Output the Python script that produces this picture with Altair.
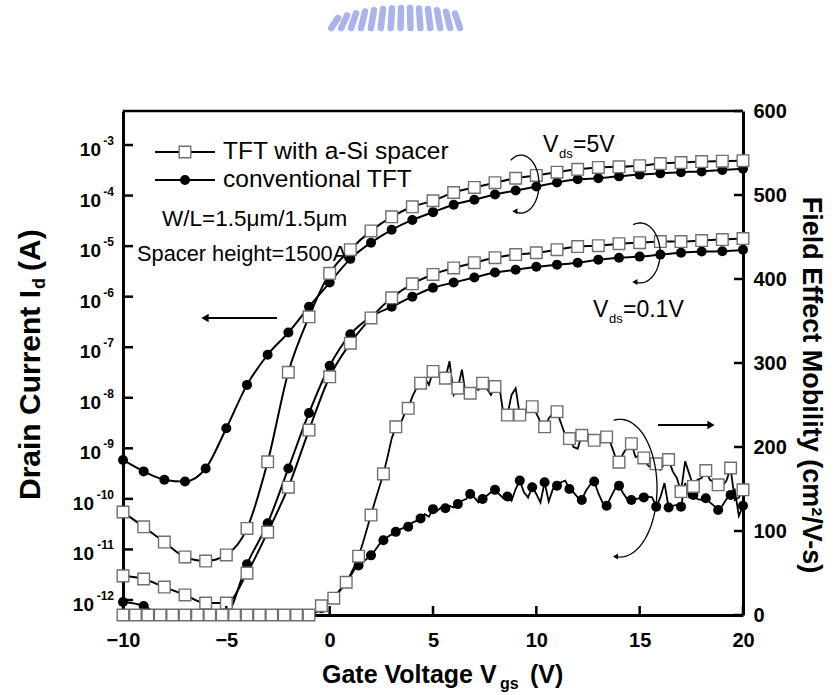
import altair as alt
import numpy as np
import pandas as pd

W, H = 620, 504
FONT = "Liberation Sans"

# ---------------- data ----------------
vgs = list(range(-10, 21))
id_spacer_5v = [5.5e-11, 2.8e-11, 1.4e-11, 7.1e-12, 5.9e-12, 7.8e-12, 2.6e-11, 5.4e-10, 3.2e-8, 4.0e-7,
                2.9e-6, 8.5e-6, 2.0e-5, 3.8e-5, 6.0e-5, 7.9e-5, 1.15e-4, 1.45e-4, 1.8e-4, 2.2e-4,
                2.5e-4, 2.9e-4, 3.3e-4, 3.6e-4, 3.7e-4, 3.9e-4, 4.3e-4, 4.5e-4, 4.7e-4, 4.8e-4, 4.9e-4]
id_conv_5v = [5.9e-10, 3.5e-10, 2.4e-10, 2.2e-10, 4.0e-10, 2.5e-9, 1.8e-8, 7.1e-8, 1.95e-7, 6.3e-7,
              1.9e-6, 5.6e-6, 1.17e-5, 2.1e-5, 3.3e-5, 4.7e-5, 6.6e-5, 8.3e-5, 1.05e-4, 1.26e-4,
              1.51e-4, 1.82e-4, 2.1e-4, 2.2e-4, 2.4e-4, 2.6e-4, 2.75e-4, 2.9e-4, 3.0e-4, 3.2e-4, 3.4e-4]
id_spacer_01v = [3.0e-12, 2.6e-12, 1.8e-12, 1.26e-12, 8.7e-13, 8.7e-13, 3.4e-12, 2.2e-11, 1.7e-10, 2.3e-9,
                 2.6e-8, 1.2e-7, 3.8e-7, 9.5e-7, 1.8e-6, 2.75e-6, 3.7e-6, 4.7e-6, 5.9e-6, 6.8e-6,
                 7.4e-6, 8.5e-6, 9.8e-6, 1.02e-5, 1.12e-5, 1.17e-5, 1.23e-5, 1.23e-5, 1.29e-5, 1.35e-5, 1.41e-5]
id_conv_01v = [9.1e-13, 7.6e-13, 4.0e-13, 2.5e-13, 2.5e-13, 4.5e-13, 5.1e-12, 3.3e-11, 4.0e-10, 5.0e-9,
               4.3e-8, 1.8e-7, 4.0e-7, 6.3e-7, 1.0e-6, 1.5e-6, 1.9e-6, 2.4e-6, 3.0e-6, 3.4e-6,
               3.9e-6, 4.3e-6, 4.7e-6, 5.4e-6, 5.9e-6, 6.2e-6, 6.8e-6, 7.4e-6, 7.8e-6, 7.9e-6, 8.5e-6]

# mobility: full trace at 0.2 V steps (from -1 V), markers every 0.6 V
mob_line_v = [-10.0] + [round(-1.0 + 0.2 * i, 1) for i in range(106)]
mob_spacer_line = [0,
    0, 2, 6, 11, 14, 17, 20, 26, 32, 39,
    48, 58, 70, 85, 102, 119, 136, 152, 168, 188,
    210, 224, 226, 238, 246, 260, 270, 276, 282, 274,
    290, 284, 286, 282, 302, 262, 270, 292, 260, 264,
    270, 268, 276, 270, 262, 272, 274, 240, 238, 262,
    270, 238, 238, 244, 248, 240, 230, 224, 234, 240,
    242, 228, 214, 210, 200, 198, 214, 216, 214, 208,
    204, 208, 212, 204, 190, 182, 192, 200, 204, 188,
    190, 187, 178, 175, 180, 173, 180, 185, 171, 163,
    147, 183, 168, 153, 161, 163, 172, 161, 158, 155,
    153, 160, 175, 137, 140, 149]
mob_conv_line = [0,
    0, 1, 4, 8, 12, 16, 21, 27, 33, 39,
    46, 54, 59, 63, 67, 71, 77, 84, 89, 93,
    96, 99, 102, 104, 105, 110, 112, 115, 120, 117,
    126, 124, 128, 127, 130, 128, 132, 136, 138, 144,
    140, 134, 138, 142, 146, 149, 144, 139, 141, 136,
    150, 160, 146, 140, 152, 144, 134, 158, 135, 150,
    154, 158, 160, 150, 146, 140, 137, 148, 155, 159,
    145, 134, 130, 140, 150, 154, 145, 138, 137, 138,
    139, 140, 141, 140, 129, 140, 157, 128, 130, 131,
    129, 157, 140, 143, 138, 137, 139, 134, 130, 125,
    130, 138, 143, 149, 118, 130]

mob_mark_v = [round(-10 + 0.6 * i, 1) for i in range(51)]
mob_spacer_mark = [0] * 16 + [
    11, 20, 39, 70, 119, 168, 224, 246, 276, 290,
    282, 270, 264, 276, 272, 238, 238, 248, 224, 242,
    210, 214, 208, 212, 182, 204, 187, 180, 185, 147,
    153, 172, 155, 175, 149]
mob_conv_mark = [
    8, 21, 39, 59, 71, 89, 99, 105, 115, 126,
    127, 132, 144, 138, 149, 141, 160, 152, 158, 154,
    150, 137, 159, 130, 154, 137, 140, 129, 128, 129,
    143, 139, 125, 143, 130]

x_ticks = [-10, -5, 0, 5, 10, 15, 20]
decades = [-12, -11, -10, -9, -8, -7, -6, -5, -4, -3]
mob_ticks = [0, 100, 200, 300, 400, 500, 600]

# ---------------- frames ----------------
cur_df = pd.concat([
    pd.DataFrame({"V": vgs, "I": id_spacer_5v, "series": "s5", "dev": "spacer"}),
    pd.DataFrame({"V": vgs, "I": id_conv_5v, "series": "c5", "dev": "conv"}),
    pd.DataFrame({"V": vgs, "I": id_spacer_01v, "series": "s01", "dev": "spacer"}),
    pd.DataFrame({"V": vgs, "I": id_conv_01v, "series": "c01", "dev": "conv"}),
])
mob_line_df = pd.concat([
    pd.DataFrame({"V": mob_line_v, "mob": mob_spacer_line, "series": "s"}),
    pd.DataFrame({"V": mob_line_v, "mob": mob_conv_line, "series": "c"}),
])
mob_sq_df = pd.DataFrame({"V": mob_mark_v, "mob": mob_spacer_mark})
mob_ci_df = pd.DataFrame({"V": mob_mark_v[16:], "mob": mob_conv_mark})
dec_df = pd.DataFrame({"e": decades, "I": [10.0 ** e for e in decades],
                       "t": [str(e) for e in decades]})
xt_df = pd.DataFrame({"V": x_ticks})
mt_df = pd.DataFrame({"mob": mob_ticks})
one = pd.DataFrame({"a": [0]})

# curved annotation arrows (ellipse arcs in data units)
arc_specs = [("a5", 9.26, 513, 0.87, 34.5, -125, 110),
             ("a01", 15.02, 431, 0.97, 35.7, -110, 105),
             ("am", 14.05, 151, 1.79, 82, -100, 97)]
arc_rows, head_rows = [], []
for name, cx, cy, rx, ry, t0, t1 in arc_specs:
    ts = np.radians(np.linspace(t0, t1, 60))
    for k, t in enumerate(ts):
        arc_rows.append({"arc": name, "k": k, "V": cx + rx * np.cos(t), "mob": cy - ry * np.sin(t)})
    head_rows.append({"V": cx + rx * np.cos(np.radians(t1)), "mob": cy - ry * np.sin(np.radians(t1))})
arc_df = pd.DataFrame(arc_rows)
head_df = pd.DataFrame(head_rows)

# ---------------- encodings ----------------
x_enc = alt.X("V:Q", scale=alt.Scale(domain=[-10, 20], nice=False, zero=False),
              axis=alt.Axis(values=x_ticks, ticks=False, grid=False, domainWidth=3,
                            domainColor="black", labelFont=FONT, labelFontSize=20,
                            labelFontWeight="bold", labelColor="black", labelPadding=15,
                            labelFlush=False, title=None))
y_I = alt.Y("I:Q", scale=alt.Scale(type="log", domain=[10 ** -12.297, 10 ** -2.327], nice=False),
            axis=alt.Axis(labels=False, ticks=False, grid=False, domainWidth=3,
                          domainColor="black", title=None))
y_mob = alt.Y("mob:Q", scale=alt.Scale(domain=[0, 600], nice=False, zero=False),
              axis=alt.Axis(orient="right", values=mob_ticks, ticks=False, grid=False,
                            domainWidth=3, domainColor="black", labelFont=FONT,
                            labelFontSize=20, labelFontWeight="bold", labelColor="black",
                            labelPadding=10, title=None))


def txt(s, x, y, size, weight="normal", align="left", baseline="alphabetic", angle=0):
    return alt.Chart(one).mark_text(text=s, align=align, baseline=baseline, font=FONT,
                                    fontSize=size, fontWeight=weight, angle=angle,
                                    color="black").encode(x=alt.value(x), y=alt.value(y))


def seg(x1, y1, x2, y2, w=2, color="black", cap="butt"):
    return alt.Chart(one).mark_rule(color=color, strokeWidth=w, strokeCap=cap).encode(
        x=alt.value(x1), x2=alt.value(x2), y=alt.value(y1), y2=alt.value(y2))


def head(x, y, shape, size=60):
    return alt.Chart(one).mark_point(shape=shape, filled=True, color="black", size=size,
                                     opacity=1).encode(x=alt.value(x), y=alt.value(y))


SQ = dict(fill="white", stroke="#707070", strokeWidth=1.4, size=135, opacity=1)
CI = dict(color="black", size=100, opacity=1)

# ---------------- drain current group ----------------
cur_lines = alt.Chart(cur_df).mark_line(interpolate="monotone", color="black", strokeWidth=2,
                                        clip=True).encode(x=x_enc, y=y_I, detail="series:N")
cur_circ = alt.Chart(cur_df).transform_filter("datum.dev == 'conv' && datum.I > 5.1e-13").mark_circle(
    **CI).encode(x=x_enc, y=y_I)
cur_sq = alt.Chart(cur_df).transform_filter("datum.dev == 'spacer'").mark_square(**SQ).encode(
    x=x_enc, y=y_I)
left_ticks = alt.Chart(dec_df).mark_rule(color="black", strokeWidth=2.5).encode(
    x=alt.value(0), x2=alt.value(10), y=y_I)
lab10_a = alt.Chart(dec_df).transform_filter("datum.e > -10").mark_text(
    text="10", align="right", baseline="middle", dy=5, font=FONT, fontSize=19,
    fontWeight="bold", color="black").encode(x=alt.value(-22), y=y_I)
lab10_b = alt.Chart(dec_df).transform_filter("datum.e <= -10").mark_text(
    text="10", align="right", baseline="middle", dy=5, font=FONT, fontSize=19,
    fontWeight="bold", color="black").encode(x=alt.value(-29), y=y_I)
lab_exp = alt.Chart(dec_df).mark_text(align="right", baseline="middle", dy=-4, font=FONT,
                                      fontSize=12, fontWeight="bold", color="black").encode(
    x=alt.value(-9), y=y_I, text="t:N")
bottom_ticks = alt.Chart(xt_df).mark_rule(color="black", strokeWidth=2.5).encode(
    x=x_enc, y=alt.value(H - 9), y2=alt.value(H))
top_frame = seg(0, 0, W, 0, 2.5)

legend = [
    seg(32, 41, 92, 41, 2), alt.Chart(one).mark_square(**SQ).encode(x=alt.value(62), y=alt.value(41)),
    seg(32, 69, 92, 69, 2), alt.Chart(one).mark_circle(**CI).encode(x=alt.value(62), y=alt.value(69)),
    txt("TFT with a-Si spacer", 100, 41, 24.5, baseline="middle"),
    txt("conventional TFT", 100, 69, 24.5, baseline="middle"),
    txt("W/L=1.5\u03bcm/1.5\u03bcm", 39, 108, 22.5, baseline="middle"),
    txt("Spacer height=1500A", 14, 143, 21.8, baseline="middle"),
]
annots = [
    txt("V", 420, 41, 23), txt("ds", 436, 47, 13), txt("=5V", 450, 41, 23),
    txt("V", 470, 206, 23), txt("ds", 486, 212, 13), txt("=0.1V", 500, 206, 23),
    seg(80, 207, 154, 207, 2), head(82, 207, "triangle-left", 70),
    seg(535, 314, 588, 314, 2), head(588, 314, "triangle-right", 70),
    # axis titles
    txt("Gate Voltage V", 199, 572, 25, "bold"), txt("gs", 377, 578, 16, "bold"),
    txt("(V)", 407, 572, 25, "bold"),
    txt("Drain Current I", -83, 389, 30, "bold", angle=270),
    txt("d", -78, 178, 18, "bold", angle=270),
    txt("(A)", -83, 160, 30, "bold", angle=270),
    txt("Field Effect Mobility (cm\u00b2/V-s)", 680, 274, 27, "bold", align="center", angle=90),
]

# faint page logo cut off at the top (decoration)
logo = []
cut = 28 - 111
for px in range(338, 464, 9):
    top = 8 + 0.0022 * (px - 405) ** 2
    if top >= 26:
        top = 24
    tilt = (px - 405) * 0.10
    logo.append(seg(px - 123, top - 111, px - 123 + tilt, cut, 6.5, "#aab4ea", "round"))

groupA = alt.layer(*logo, cur_lines, cur_circ, cur_sq, left_ticks, lab10_a, lab10_b, lab_exp,
                   bottom_ticks, top_frame, *legend, *annots)

# ---------------- mobility group ----------------
mob_lines = alt.Chart(mob_line_df).mark_line(color="black", strokeWidth=1.8).encode(
    x=x_enc, y=y_mob, detail="series:N")
mob_circ = alt.Chart(mob_ci_df).mark_circle(**CI).encode(x=x_enc, y=y_mob)
mob_sq = alt.Chart(mob_sq_df).mark_square(**SQ).encode(x=x_enc, y=y_mob)
right_ticks = alt.Chart(mt_df).mark_rule(color="black", strokeWidth=2.5).encode(
    x=alt.value(W - 9), x2=alt.value(W), y=y_mob)
arcs = alt.Chart(arc_df).mark_line(color="black", strokeWidth=1.3).encode(
    x=x_enc, y=y_mob, detail="arc:N", order="k:Q")
heads = alt.Chart(head_df).mark_point(shape="triangle-left", filled=True, color="black",
                                      size=35, opacity=1).encode(x=x_enc, y=y_mob)

groupB = alt.layer(mob_lines, mob_circ, mob_sq, right_ticks, arcs, heads)

chart = alt.layer(groupA, groupB).resolve_scale(y="independent").properties(
    width=W, height=H,
    autosize=alt.AutoSizeParams(type="none"),
    padding={"left": 123, "top": 111, "right": 92, "bottom": 80},
    background="white",
).configure_view(stroke=None)

chart.save("out.html", embed_options={"renderer": "svg", "actions": False})
